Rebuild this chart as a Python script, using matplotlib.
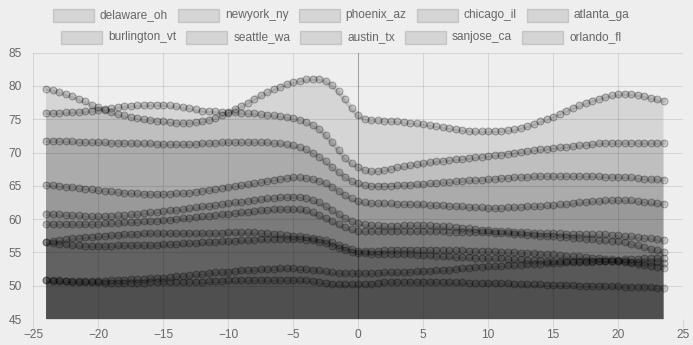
import numpy as np
import matplotlib.pyplot as plt
from matplotlib.patches import Rectangle

# half-hour readings, hours relative to now
hours = np.arange(-24, 24, 0.5)

delaware_oh = [79.6, 79.4, 79.1, 78.8, 78.5, 78.1, 77.7, 77.2,
               76.8, 76.4, 76.1, 75.8, 75.6, 75.4, 75.2, 75.0,
               74.9, 74.8, 74.7, 74.6, 74.5, 74.5, 74.5, 74.6,
               74.7, 74.9, 75.2, 75.6, 76.0, 76.5, 77.0, 77.5,
               78.1, 78.6, 79.1, 79.5, 79.9, 80.3, 80.6, 80.8,
               81.0, 81.1, 81.1, 80.8, 80.2, 79.2, 78.0, 76.7,
               75.6, 75.1, 74.9, 74.85, 74.8, 74.75, 74.7, 74.6,
               74.5, 74.4, 74.3, 74.15, 74.0, 73.85, 73.7, 73.55,
               73.4, 73.3, 73.2, 73.2, 73.2, 73.25, 73.3, 73.4,
               73.5, 73.7, 74.0, 74.3, 74.7, 75.0, 75.4, 75.85,
               76.3, 76.7, 77.1, 77.45, 77.8, 78.1, 78.4, 78.6,
               78.8, 78.85, 78.8, 78.7, 78.5, 78.25, 78.0, 77.8]
newyork_ny = [76.0, 76.0, 76.0, 76.05, 76.1, 76.15, 76.2, 76.3,
              76.4, 76.55, 76.7, 76.85, 77.0, 77.05, 77.1, 77.15,
              77.2, 77.2, 77.2, 77.1, 77.0, 76.85, 76.7, 76.5,
              76.3, 76.25, 76.2, 76.15, 76.1, 76.05, 76.0, 75.95,
              75.9, 75.8, 75.7, 75.6, 75.5, 75.35, 75.2, 74.95,
              74.6, 74.2, 73.6, 72.7, 71.6, 70.4, 69.2, 68.4,
              67.9, 67.4, 67.2, 67.25, 67.4, 67.6, 67.8, 67.95,
              68.1, 68.25, 68.4, 68.55, 68.7, 68.8, 68.9, 69.0,
              69.1, 69.2, 69.3, 69.4, 69.5, 69.6, 69.7, 69.85,
              70.0, 70.15, 70.3, 70.4, 70.5, 70.6, 70.7, 70.8,
              70.9, 71.0, 71.1, 71.2, 71.3, 71.4, 71.5, 71.5,
              71.5, 71.5, 71.5, 71.5, 71.5, 71.5, 71.5, 71.5]
phoenix_az = [71.8, 71.8, 71.8, 71.75, 71.7, 71.65, 71.6, 71.6,
              71.6, 71.55, 71.5, 71.5, 71.5, 71.45, 71.4, 71.4,
              71.4, 71.35, 71.3, 71.3, 71.3, 71.3, 71.3, 71.35,
              71.4, 71.45, 71.5, 71.55, 71.6, 71.6, 71.6, 71.6,
              71.6, 71.6, 71.6, 71.5, 71.4, 71.25, 71.1, 70.85,
              70.5, 70.0, 69.4, 68.7, 67.9, 67.1, 66.4, 65.8,
              65.4, 65.15, 65.0, 65.0, 65.0, 65.05, 65.1, 65.15,
              65.2, 65.25, 65.3, 65.4, 65.5, 65.55, 65.6, 65.7,
              65.8, 65.85, 65.9, 65.95, 66.0, 66.1, 66.2, 66.25,
              66.3, 66.35, 66.4, 66.45, 66.5, 66.5, 66.5, 66.5,
              66.5, 66.5, 66.5, 66.5, 66.5, 66.45, 66.4, 66.4,
              66.4, 66.35, 66.3, 66.2, 66.1, 66.05, 66.0, 65.95]
chicago_il = [65.2, 65.1, 65.0, 64.9, 64.8, 64.7, 64.6, 64.5,
              64.4, 64.3, 64.2, 64.1, 64.0, 63.95, 63.9, 63.85,
              63.8, 63.8, 63.8, 63.85, 63.9, 63.95, 64.0, 64.15,
              64.3, 64.4, 64.5, 64.65, 64.8, 64.95, 65.1, 65.25,
              65.4, 65.6, 65.8, 65.95, 66.1, 66.2, 66.3, 66.3,
              66.2, 66.05, 65.8, 65.4, 64.9, 64.3, 63.6, 63.1,
              62.7, 62.5, 62.4, 62.4, 62.4, 62.35, 62.3, 62.3,
              62.3, 62.25, 62.2, 62.15, 62.1, 62.05, 62.0, 61.95,
              61.9, 61.85, 61.8, 61.75, 61.7, 61.7, 61.7, 61.75,
              61.8, 61.85, 61.9, 61.95, 62.0, 62.05, 62.1, 62.2,
              62.3, 62.4, 62.5, 62.6, 62.7, 62.75, 62.8, 62.85,
              62.9, 62.85, 62.8, 62.7, 62.6, 62.5, 62.4, 62.3]
atlanta_ga = [60.8, 60.75, 60.7, 60.65, 60.6, 60.55, 60.5, 60.45,
              60.4, 60.45, 60.5, 60.55, 60.6, 60.7, 60.8, 60.9,
              61.0, 61.1, 61.2, 61.3, 61.4, 61.5, 61.6, 61.75,
              61.9, 62.0, 62.1, 62.25, 62.4, 62.5, 62.6, 62.75,
              62.9, 63.0, 63.1, 63.2, 63.3, 63.35, 63.4, 63.35,
              63.2, 62.9, 62.5, 62.0, 61.4, 60.8, 60.2, 59.75,
              59.4, 59.2, 59.1, 59.05, 59.0, 59.0, 59.0, 59.05,
              59.1, 59.1, 59.1, 59.05, 59.0, 58.95, 58.9, 58.8,
              58.7, 58.6, 58.5, 58.4, 58.3, 58.25, 58.2, 58.15,
              58.1, 58.05, 58.0, 57.95, 57.9, 57.9, 57.9, 57.85,
              57.8, 57.8, 57.8, 57.75, 57.7, 57.7, 57.7, 57.65,
              57.6, 57.5, 57.4, 57.3, 57.2, 57.1, 57.0, 56.9]
burlington_vt = [59.3, 59.3, 59.3, 59.3, 59.3, 59.3, 59.3, 59.3,
                 59.3, 59.35, 59.4, 59.45, 59.5, 59.55, 59.6, 59.65,
                 59.7, 59.75, 59.8, 59.9, 60.0, 60.1, 60.2, 60.3,
                 60.4, 60.5, 60.6, 60.7, 60.8, 60.9, 61.0, 61.1,
                 61.2, 61.3, 61.4, 61.45, 61.5, 61.5, 61.5, 61.45,
                 61.3, 61.0, 60.6, 60.2, 59.7, 59.2, 58.8, 58.45,
                 58.2, 58.2, 58.2, 58.2, 58.2, 58.2, 58.2, 58.2,
                 58.2, 58.2, 58.2, 58.2, 58.2, 58.15, 58.1, 58.1,
                 58.1, 58.05, 58.0, 58.0, 58.0, 57.95, 57.9, 57.85,
                 57.8, 57.7, 57.6, 57.55, 57.5, 57.45, 57.4, 57.35,
                 57.3, 57.2, 57.1, 57.05, 57.0, 56.9, 56.8, 56.75,
                 56.7, 56.5, 56.3, 56.05, 55.8, 55.55, 55.3, 55.1]
seattle_wa = [56.5, 56.65, 56.8, 56.95, 57.1, 57.2, 57.3, 57.35,
              57.4, 57.5, 57.6, 57.65, 57.7, 57.75, 57.8, 57.85,
              57.9, 57.9, 57.9, 57.9, 57.9, 57.9, 57.9, 57.9,
              57.9, 57.9, 57.9, 57.95, 58.0, 58.0, 58.0, 58.0,
              58.0, 57.95, 57.9, 57.8, 57.7, 57.6, 57.5, 57.4,
              57.3, 57.15, 57.0, 56.8, 56.5, 56.15, 55.8, 55.45,
              55.2, 55.2, 55.2, 55.25, 55.3, 55.35, 55.4, 55.4,
              55.4, 55.4, 55.4, 55.4, 55.4, 55.35, 55.3, 55.3,
              55.3, 55.25, 55.2, 55.2, 55.2, 55.15, 55.1, 55.05,
              55.0, 54.95, 54.9, 54.85, 54.8, 54.75, 54.7, 54.6,
              54.5, 54.45, 54.4, 54.3, 54.2, 54.1, 54.0, 53.95,
              53.9, 53.95, 54.0, 54.05, 54.1, 54.15, 54.2, 54.2]
austin_tx = [56.5, 56.4, 56.3, 56.2, 56.1, 56.05, 56.0, 56.0,
             56.0, 56.0, 56.0, 56.05, 56.1, 56.1, 56.1, 56.1,
             56.1, 56.15, 56.2, 56.25, 56.3, 56.35, 56.4, 56.45,
             56.5, 56.55, 56.6, 56.65, 56.7, 56.75, 56.8, 56.85,
             56.9, 56.95, 57.0, 57.0, 57.0, 57.0, 57.0, 56.95,
             56.9, 56.8, 56.6, 56.35, 56.0, 55.7, 55.4, 55.1,
             54.9, 54.85, 54.8, 54.75, 54.7, 54.7, 54.7, 54.7,
             54.7, 54.65, 54.6, 54.55, 54.5, 54.45, 54.4, 54.35,
             54.3, 54.25, 54.2, 54.15, 54.1, 54.1, 54.1, 54.05,
             54.0, 53.95, 53.9, 53.85, 53.8, 53.75, 53.7, 53.7,
             53.7, 53.7, 53.7, 53.7, 53.7, 53.7, 53.7, 53.7,
             53.7, 53.65, 53.6, 53.55, 53.5, 53.5, 53.5, 53.45]
sanjose_ca = [50.8, 50.8, 50.8, 50.75, 50.7, 50.7, 50.7, 50.7,
              50.7, 50.75, 50.8, 50.85, 50.9, 50.95, 51.0, 51.05,
              51.1, 51.15, 51.2, 51.3, 51.4, 51.5, 51.6, 51.7,
              51.8, 51.9, 52.0, 52.05, 52.1, 52.2, 52.3, 52.35,
              52.4, 52.45, 52.5, 52.55, 52.6, 52.6, 52.6, 52.55,
              52.5, 52.4, 52.3, 52.15, 52.0, 51.95, 51.9, 51.9,
              51.9, 51.9, 51.9, 51.95, 52.0, 52.0, 52.0, 52.05,
              52.1, 52.15, 52.2, 52.25, 52.3, 52.35, 52.4, 52.5,
              52.6, 52.7, 52.8, 52.85, 52.9, 52.95, 53.0, 53.05,
              53.1, 53.15, 53.2, 53.25, 53.3, 53.35, 53.4, 53.45,
              53.5, 53.55, 53.6, 53.6, 53.6, 53.65, 53.7, 53.7,
              53.7, 53.55, 53.4, 53.25, 53.1, 52.95, 52.8, 52.7]
orlando_fl = [50.8, 50.75, 50.7, 50.65, 50.6, 50.55, 50.5, 50.5,
              50.5, 50.45, 50.4, 50.4, 50.4, 50.4, 50.4, 50.45,
              50.5, 50.5, 50.5, 50.5, 50.5, 50.55, 50.6, 50.6,
              50.6, 50.65, 50.7, 50.75, 50.8, 50.8, 50.8, 50.85,
              50.9, 50.9, 50.9, 50.9, 50.9, 50.9, 50.9, 50.85,
              50.8, 50.7, 50.6, 50.45, 50.3, 50.25, 50.2, 50.2,
              50.2, 50.25, 50.3, 50.4, 50.5, 50.55, 50.6, 50.6,
              50.6, 50.6, 50.6, 50.6, 50.6, 50.55, 50.5, 50.5,
              50.5, 50.45, 50.4, 50.4, 50.4, 50.4, 50.4, 50.35,
              50.3, 50.25, 50.2, 50.2, 50.2, 50.15, 50.1, 50.1,
              50.1, 50.05, 50.0, 50.0, 50.0, 49.95, 49.9, 49.9,
              49.9, 49.85, 49.8, 49.8, 49.8, 49.75, 49.7, 49.7]

cities = ['delaware_oh', 'newyork_ny', 'phoenix_az', 'chicago_il', 'atlanta_ga',
          'burlington_vt', 'seattle_wa', 'austin_tx', 'sanjose_ca', 'orlando_fl']
temps = [delaware_oh, newyork_ny, phoenix_az, chicago_il, atlanta_ga,
         burlington_vt, seattle_wa, austin_tx, sanjose_ca, orlando_fl]

W, H = 693, 345
bg = '#eeeeee'
txt = '#666666'
fill = (0, 0, 0, 0.1)
edge = (0, 0, 0, 0.3)
plt.rcParams['font.family'] = ['Liberation Sans', 'DejaVu Sans']

fig = plt.figure(figsize=(W / 100, H / 100), dpi=100, facecolor=bg)
# plot area in pixels: x 33..683, y 52.7..319
ax = fig.add_axes([33 / W, (H - 319) / H, 650 / W, 266.3 / H])
ax.set_facecolor(bg)
ax.set_axisbelow(True)

for t in temps:
    ax.fill_between(hours, 0, t, color=fill, lw=0, zorder=2)
for t in temps:
    ax.plot(hours, t, '-', lw=3.4, color=(0, 0, 0, 0.12), zorder=3)
    ax.plot(hours, t, 'o', ms=4.9, mfc=fill, mec=edge, mew=0.8, zorder=4)

ax.set_xlim(-25, 25)
ax.set_ylim(45, 85)
ax.set_xticks(np.arange(-25, 26, 5))
ax.set_yticks(np.arange(45, 86, 5))
for s in ax.spines.values():
    s.set_visible(False)
ax.tick_params(axis='both', grid_color='#000000', grid_alpha=0.1, grid_linewidth=0.75)
ax.grid(True)
ax.axvline(0, color='#000000', alpha=0.25, lw=0.75, zorder=1)
ax.tick_params(axis='x', length=6.5, width=0.75, color='#d6d6d6',
               labelsize=8.6, labelcolor=txt, pad=1)
ax.tick_params(axis='y', length=0, labelsize=8.6, labelcolor=txt, pad=8)

# legend drawn as two centred rows like the original
rows = [cities[:5], cities[5:]]
row_y = [15, 37]
box_w, box_h, gap, spacing = 41, 13, 6, 10
fig.canvas.draw()
r = fig.canvas.get_renderer()
for names, yc in zip(rows, row_y):
    widths = []
    for n in names:
        t = fig.text(0, 0, n, fontsize=8.6)
        widths.append(t.get_window_extent(r).width)
        t.remove()
    total = sum(box_w + gap + w for w in widths) + spacing * (len(names) - 1)
    x0 = 341 - total / 2
    for n, w in zip(names, widths):
        fig.patches.append(Rectangle((x0 / W, (H - yc - box_h / 2) / H), box_w / W, box_h / H,
                                     transform=fig.transFigure, facecolor=fill,
                                     edgecolor=(0, 0, 0, 0.12), lw=1))
        fig.text((x0 + box_w + gap) / W, (H - yc) / H, n, fontsize=8.6, color=txt,
                 va='center', ha='left')
        x0 += box_w + gap + w + spacing

fig.savefig('out.png', dpi=100, facecolor=bg)
